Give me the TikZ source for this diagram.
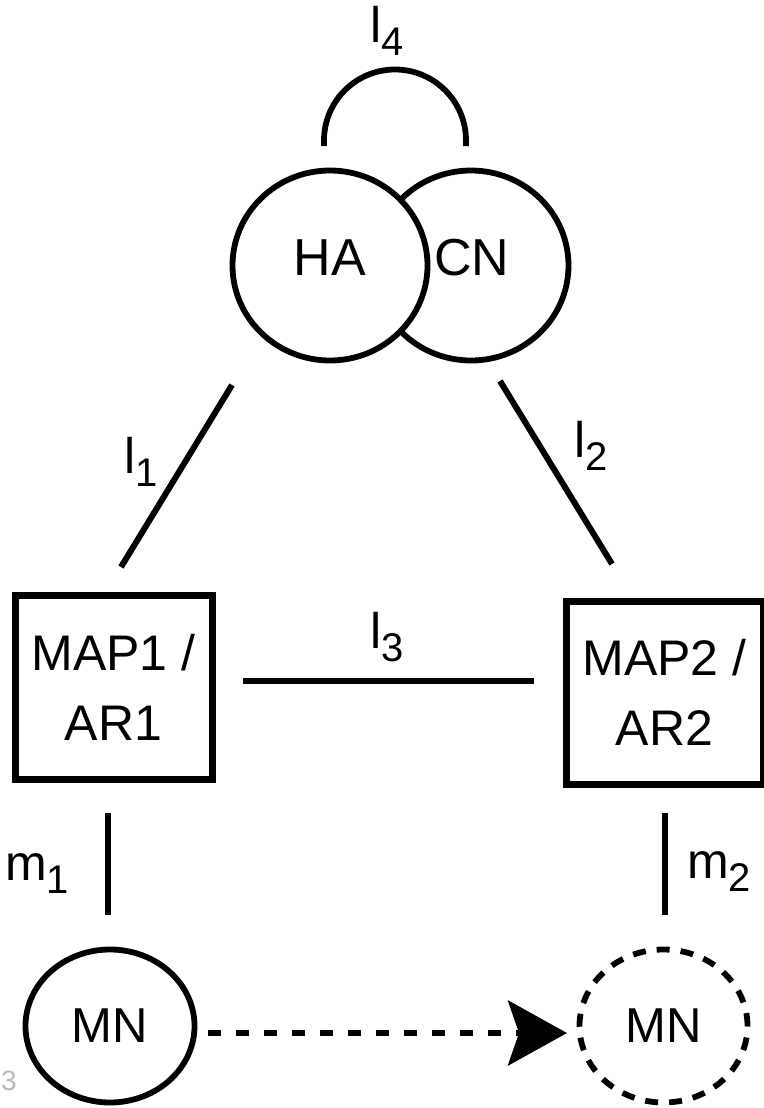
\documentclass[tikz,border=0pt]{standalone}
\usepackage{fontspec}
\setmainfont{Liberation Sans}
\usetikzlibrary{shapes.geometric,arrows.meta}
\newcommand{\sublab}[2]{#1\raisebox{-13pt}{\fontsize{40}{40}\selectfont #2}}
\begin{document}
\begin{tikzpicture}[x=1pt,y=-1pt,
  circ/.style={ellipse,draw,line width=5.8pt,fill=white,inner sep=0pt},
  boxnode/.style={rectangle,draw,line width=7pt,minimum width=197pt,minimum height=184pt,align=center,font=\fontsize{50}{70}\selectfont,inner sep=0pt},
  conn/.style={line width=6pt},
  lab/.style={anchor=base west,inner sep=0pt,font=\fontsize{50}{50}\selectfont},
  txt/.style={inner sep=0pt,font=\fontsize{52}{52}\selectfont},
  mntxt/.style={font=\fontsize{49}{49}\selectfont}]
\useasboundingbox (0,0) rectangle (763,1108);
% top pair
\node[circ,minimum width=195pt,minimum height=190pt] (CN) at (471,265.5) {};
\node[circ,minimum width=195pt,minimum height=190pt] (HA) at (330,265.5) {};
\node[txt] (HAt) at (330,258) {HA};
\node[txt] (CNt) at (472,258) {CN};
% boxes
\node[boxnode] (M1) at (113.5,687) {MAP1 /\\AR1};
\node[boxnode,minimum height=183pt] (M2) at (664.5,692.5) {MAP2 /\\AR2};
% mobile nodes
\node[circ,minimum width=169pt,minimum height=153pt,mntxt] (MN1) at (110,1026) {MN};
\node[circ,dash pattern=on 13pt off 11pt,minimum width=168pt,minimum height=153pt,mntxt] (MN2) at (663.5,1026) {MN};
% connector end points
\coordinate (l1a) at (232,385);
\coordinate (l1b) at (121,567);
\coordinate (l2a) at (500,381);
\coordinate (l2b) at (612,564);
\coordinate (l3a) at (243,681);
\coordinate (l3b) at (534,681);
\coordinate (m1a) at (108,813);
\coordinate (m1b) at (108,915);
\coordinate (m2a) at (665,813);
\coordinate (m2b) at (665,915);
\coordinate (l4a) at (324,146);
\coordinate (l4b) at (466,146);
\coordinate (ar1) at (208,1033);
\coordinate (ar2) at (567,1033);
% connectors
\draw[conn] (l1a) -- (l1b);
\draw[conn] (l2a) -- (l2b);
\draw[conn] (l3a) -- (l3b);
\draw[conn] (m1a) -- (m1b);
\draw[conn] (m2a) -- (m2b);
\draw[line width=5.8pt] (l4a) -- ++(0,-5.5) arc[start angle=180,end angle=0,radius=71pt] -- (l4b);
\draw[line width=5.5pt,dash pattern=on 13pt off 15pt,-{Stealth[length=59pt,width=65pt,inset=11pt]}] (ar1) -- (ar2);
% labels
\node[lab] (L1) at (124,473) {\sublab{l}{1}};
\node[lab] (L2) at (574,457) {\sublab{l}{2}};
\node[lab] (L3) at (370,648) {\sublab{l}{3}};
\node[lab] (L4) at (370,43) {\sublab{l}{4}};
\node[lab] (Lm1) at (5,880) {\sublab{m}{1}};
\node[lab] (Lm2) at (687,878) {\sublab{m}{2}};
\node[anchor=base west,inner sep=0pt,text=gray!55,font=\fontsize{28}{28}\selectfont] (fig) at (1,1090) {3};
\end{tikzpicture}
\end{document}
